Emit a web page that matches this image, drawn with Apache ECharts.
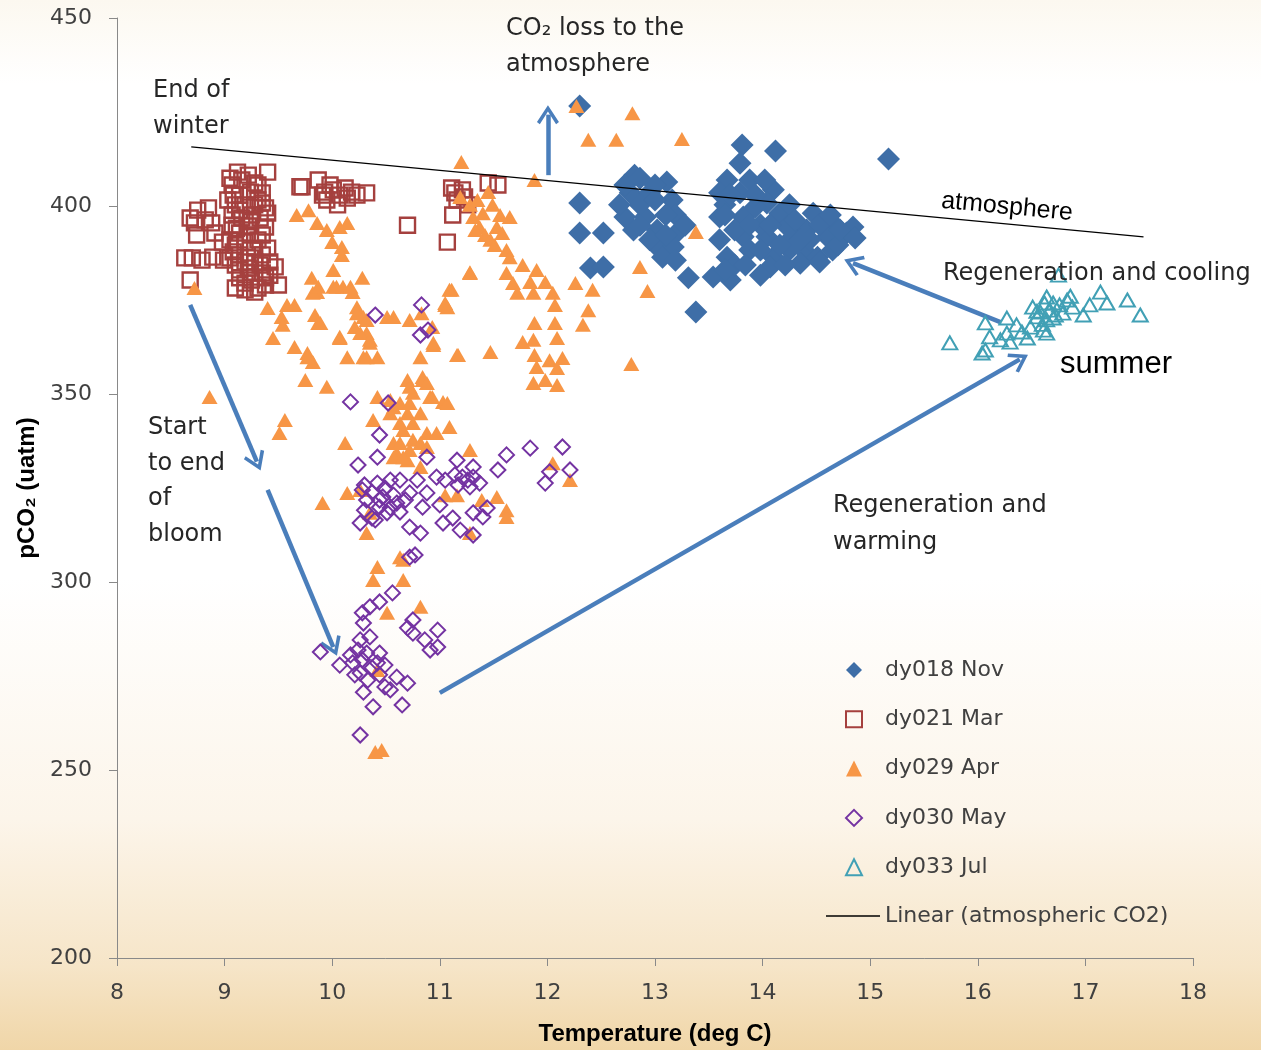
<!DOCTYPE html>
<html><head><meta charset="utf-8">
<script src="https://cdn.jsdelivr.net/npm/echarts@6.0.0/dist/echarts.min.js"></script>
<style>html,body{margin:0;padding:0;background:#fff}#c{width:1261px;height:1050px}</style>
</head><body><div id="c"></div>
<script>
// ---- data (temperature degC, pCO2 uatm) ----
const nov = [
[12.30,426.6],[12.30,400.8],[12.30,392.8],[12.52,392.8],[12.40,383.5],[12.52,383.8],
[13.81,416.2],[14.12,414.6],[15.17,412.5],[13.38,371.8],[13.31,380.9],
[12.81,408.2],[13.11,406.4],[12.77,403.5],[12.95,403.5],[13.16,401.6],[12.72,397.1],[12.91,397.1],[13.19,397.6],[12.80,393.6],[13.02,393.6],[13.20,392.8],[13.05,388.3],[13.17,389.1],[13.07,386.4],[12.86,400.3],[13.00,405.6],
[12.72,405.6],[12.86,407.4],[13.00,401.6],[13.10,397.6],[12.67,400.3],[12.95,391.0],[12.86,394.9],[13.10,392.3],[13.28,394.9],[13.19,385.6],
[13.79,411.4],[13.67,406.9],[13.88,406.9],[13.60,403.5],[13.79,403.5],[14.10,404.3],[14.04,400.8],[13.60,397.1],[13.82,397.1],[14.16,398.1],[14.23,394.4],[14.47,398.1],[14.65,395.5],[14.84,394.4],[14.41,393.6],[14.60,391.8],[13.60,391.0],[13.82,391.8],[14.04,391.8],[14.28,391.8],[13.67,386.4],[13.88,388.3],[14.10,386.4],[14.41,387.5],[14.65,388.3],[13.54,381.1],[13.70,380.3],[14.07,383.8],[14.35,384.8],[14.51,386.4],[14.78,392.8],
[13.98,395.0],[14.25,400.3],[13.65,400.3],[13.93,399.7],[13.74,384.3],[14.25,388.3],[14.44,391.0],[14.70,389.6],[14.53,385.1],
[13.70,403.0],[13.93,403.0],[13.74,393.6],[13.88,395.0],[13.98,388.3],[14.16,389.6],[14.30,396.3],[14.53,395.0],[14.72,393.6],[14.35,391.0],[14.21,384.3],[13.84,384.3],[13.65,383.0],[13.98,381.6],[14.63,397.6],[14.86,391.5],[14.07,395.0],[13.65,397.6],[14.02,406.9]
];
const mar = [
[9.12,409.0],[9.40,409.0],[9.28,406.1],[9.35,403.5],[9.70,405.1],[9.07,405.6],[9.14,402.9],[9.24,403.7],[9.10,400.3],[9.19,400.3],[9.28,400.3],[9.38,399.5],[9.07,397.6],[9.16,396.8],[9.25,397.6],[9.40,398.1],[9.11,394.1],[9.22,394.7],[9.38,394.4],[9.05,391.0],[9.19,390.4],[9.31,391.0],
[9.03,401.6],[9.33,396.8],[9.14,392.8],[9.28,388.8],[9.24,382.4],[9.35,382.2],[9.19,385.1],[9.07,394.9],[9.31,401.6],[9.16,406.9],
[9.05,407.4],[9.22,408.2],[9.31,405.6],[9.08,402.9],[9.35,400.8],[9.14,398.9],[9.24,395.8],[9.35,392.3],[9.10,389.6],[9.24,392.3],[9.05,386.2],[9.28,385.1],[9.38,379.0],[9.14,383.0],[9.42,381.6],[9.28,377.1],[9.19,379.5],[9.10,378.2],
[8.75,398.9],[8.85,399.5],[8.72,395.5],[8.88,395.5],[8.74,392.3],[8.91,392.8],[8.82,396.3],[8.70,386.2],[8.79,385.6],[8.89,386.4],[8.99,385.6],[8.68,380.3],[8.98,390.4],[8.68,396.8],[8.63,386.2],
[9.14,387.0],[9.24,386.2],[9.35,387.0],[9.10,384.3],[9.22,383.5],[9.33,384.3],[9.42,385.1],[9.14,380.9],[9.25,380.3],[9.38,380.9],[9.47,383.8],[9.50,379.0],[9.19,377.7],[9.31,378.2],[9.08,387.8],[9.40,388.8],
[9.72,405.1],[9.87,406.9],[9.93,403.7],[10.01,404.3],[10.07,402.9],[10.12,404.8],[10.18,403.7],[10.23,402.9],[10.32,403.5],[9.95,401.6],[10.05,400.3],[9.98,405.6],[10.14,402.1],[9.91,402.9],
[10.70,394.9],[11.07,390.4],[11.12,397.6],[11.14,403.5],[11.21,404.3],[11.16,401.6],[11.23,402.4],[11.45,406.1],[11.54,405.6],[11.11,404.8],[11.26,400.3]
];
const apr = [
[12.27,426.6],[12.79,424.7],[12.38,417.6],[12.64,417.6],[13.25,417.8],[11.20,411.7],[11.88,406.9],[13.38,393.1],[12.86,383.8],[12.93,377.4],[12.26,379.5],[12.42,377.7],[12.38,372.3],[12.33,368.4],[12.78,358.0],
[11.45,403.7],[11.31,397.1],[11.40,398.1],[11.65,397.1],[11.37,394.4],[11.53,394.4],[11.47,391.0],[11.58,392.8],[11.62,388.3],[11.28,382.4],[11.65,386.4],[11.77,384.3],[11.62,382.2],[11.90,383.0],[11.68,379.5],[11.84,379.8],[11.98,379.8],[11.72,376.9],[11.87,376.9],[12.05,376.9],[12.07,373.7],[11.11,377.7],[11.05,373.7],[11.88,368.9],[12.07,368.9],[11.77,363.8],[11.87,364.4],[12.09,364.9],[11.17,360.4],[11.47,361.2],[11.88,360.4],[12.02,359.0],[12.14,359.6],[11.90,357.2],[12.09,356.9],[11.87,352.9],[12.09,352.4],[11.98,353.7],
[11.28,400.3],[11.35,401.6],[11.49,400.3],[11.42,392.3],[11.51,389.6],[11.56,397.6],[11.33,393.6],[11.19,402.4],
[9.67,397.6],[9.78,398.9],[9.86,395.5],[9.95,393.6],[10.07,394.4],[10.14,395.5],[10.00,390.4],[10.09,389.1],[10.09,387.0],[10.01,383.0],[9.81,380.9],[10.28,380.9],[9.86,377.1],[10.01,378.5],[10.10,378.5],[10.19,377.1],
[9.40,372.9],[9.58,373.7],[9.65,373.7],[9.53,370.5],[9.54,368.4],[9.45,364.9],[9.65,362.5],[9.77,360.9],[9.82,358.5],[9.75,353.7],[9.95,351.9],[9.84,371.0],[9.87,368.9],[10.07,364.9],[10.14,359.8],
[10.23,373.1],[10.29,370.5],[10.21,367.8],[10.32,366.2],[10.35,363.6],[10.29,359.8],[10.42,359.8],[10.51,370.5],[10.57,370.5],[10.72,369.7],[10.83,371.5],[10.93,367.8],[10.94,363.0],[10.82,359.8],[11.05,374.2],[11.09,377.7],[11.28,382.2],[11.16,360.4],
[10.70,353.7],[10.84,353.7],[10.75,350.3],[10.42,349.2],[10.54,348.4],[10.63,347.6],[10.91,349.2],[11.03,347.9],[10.38,343.1],[10.54,344.9],[10.70,344.9],[10.82,344.9],[11.09,341.2],[10.66,340.4],[10.57,337.0],[10.75,337.8],[10.88,339.6],[10.97,339.6],[10.60,334.3],[10.70,332.4],[10.82,337.0],[11.28,335.1],[10.12,337.0],[9.56,343.1],[9.51,339.6],
[9.82,376.9],[9.87,378.5],[10.04,378.5],[10.17,378.5],[10.23,371.5],[10.32,369.7],[10.26,366.2],[10.35,364.4],[10.07,365.2],[10.32,359.8],[10.94,363.6],[11.07,373.1],[9.89,368.9],[9.77,359.8],
[10.84,354.5],[10.93,349.2],[10.57,346.5],[10.72,347.6],[10.63,342.3],[10.75,342.3],[11.07,347.6],[10.63,337.0],[10.72,335.1],[10.57,333.2],[10.88,335.9],[10.82,330.6],
[10.72,351.9],[10.88,352.9],[10.66,333.2],[12.05,331.6],[12.21,327.1],[11.53,322.6],[11.62,319.1],[11.62,317.3],
[10.32,313.0],[10.63,306.6],[10.66,305.9],[10.42,304.0],[10.38,300.5],[10.66,300.5],[10.82,293.4],[10.51,291.8],[9.91,321.0],[10.14,323.7],[10.26,324.5],[10.35,318.4],[11.05,323.1],[11.16,323.1],[11.39,321.8],[11.28,313.0],
[10.42,276.6],[10.40,254.8],[10.46,255.3],[8.72,378.2],[8.86,349.2]
];
const may = [
[10.83,373.7],[10.40,371.0],[10.82,365.7],[10.89,367.0],[10.17,347.9],[10.52,347.6],[10.44,339.1],[10.42,333.2],[10.24,331.1],[10.88,333.2],[11.16,332.4],[11.31,330.6],[11.54,329.8],[11.62,333.8],[11.84,335.6],[12.14,335.9],[12.02,329.3],[12.21,329.8],[11.98,326.3],
[10.28,324.5],[10.42,326.3],[10.54,327.1],[10.63,327.1],[10.32,321.8],[10.47,322.6],[10.60,321.0],[10.26,315.7],[10.37,317.0],[10.51,318.4],[10.63,318.6],[10.44,319.9],
[10.30,325.8],[10.37,323.9],[10.49,325.0],[10.57,323.1],[10.44,321.8],[10.30,319.1],[10.54,319.7],[10.40,316.5],[10.68,321.8],
[10.72,323.7],[10.79,327.1],[10.88,323.7],[10.84,319.9],[10.97,327.9],[11.00,320.5],[11.03,315.7],[11.12,317.0],[11.21,327.9],[11.31,327.9],[11.17,325.8],[11.28,325.3],[11.19,313.8],[11.31,312.5],[11.31,318.4],[11.40,317.3],[11.44,319.7],[10.72,314.6],[10.82,313.0],
[11.05,327.1],[11.14,328.5],[11.26,327.1],[11.37,326.3],
[10.72,306.6],[10.77,307.2],
[10.56,297.1],[10.44,294.7],[10.35,293.4],[10.28,291.8],[10.29,289.1],[10.35,285.4],[10.26,284.6],[9.89,281.4],[10.07,277.9],[10.19,278.5],[10.24,281.9],[10.32,281.1],[10.44,281.1],[10.42,278.5],[10.26,275.8],[10.44,275.3],[10.60,274.7],[10.70,273.1],[10.29,270.7],[10.49,272.1],[10.54,271.3],[10.38,266.8],[10.65,267.3],[10.26,259.3],
[10.17,280.6],[10.28,279.3],[10.37,277.2],[10.21,275.3],[10.33,273.9],[10.49,277.9],
[10.75,289.9],[10.70,287.8],[10.75,286.4],[10.98,287.2],[10.86,284.6],[10.98,282.7],[10.91,281.9]
];
const jul = [
[16.75,381.6],[17.14,377.1],[17.39,375.0],[17.51,371.0],[16.64,375.8],[16.70,374.2],[16.83,375.0],[16.88,373.1],[17.04,373.7],[17.20,374.2],[16.98,371.0],[16.79,371.5],[16.51,373.1],[16.55,370.5],[16.64,369.7],[16.70,370.2],[16.49,367.8],[16.61,367.0],[16.64,366.2],[16.46,364.9],[16.36,368.4],[16.27,370.2],[16.07,368.9],[16.11,365.2],[16.21,364.4],[16.30,363.8],[16.07,361.7],[16.04,360.9],[15.74,363.6],[16.27,366.2],[16.41,366.5],
[16.58,371.8],[16.67,372.3],[16.76,373.7],[16.62,374.2],[16.55,372.0],[16.72,371.0],[16.60,368.5],[16.86,376.0]
];
const atmosLine = [[8.69,415.7],[17.54,391.8]];
// annotation arrows: [start, end]
const arrows = [
  [[12.005,408.2],[12.005,424.3]],
  [[8.68,373.7],[9.30,332.0]],
  [[9.40,324.5],[10.01,282.7]],
  [[11.00,270.5],[16.39,359.2]],
  [[16.21,369.1],[14.84,384.8]]
];
const xTicks = {min: 8, max: 18, interval: 1};
const yTicks = {min: 200, max: 450, interval: 50};
const seriesNames = ['dy018 Nov','dy021 Mar','dy029 Apr','dy030 May','dy033 Jul'];
const trendName = 'Linear (atmospheric CO2)';

const FONT = 'DejaVu Sans';
const chevron = 'path://M10,0 L20,15 L17.4,17 L10,5.8 L2.6,17 L0,15 Z';

const chart = echarts.init(document.getElementById('c'), null, {renderer: 'canvas'});
const noEmph = {disabled: true};
function scatter(name, data, symbol, size, itemStyle, z) {
  return {type: 'scatter', name, data, symbol, symbolSize: size, itemStyle: Object.assign({opacity: 1}, itemStyle), z, emphasis: noEmph, silent: true, animation: false, large: false};
}
const legendText = {fontFamily: FONT, fontSize: 22, color: '#404040', lineHeight: 22};
const option = {
  animation: false,
  backgroundColor: {
    type: 'linear', x: 0, y: 0, x2: 0, y2: 1,
    colorStops: [
      {offset: 0, color: '#fcf8f0'}, {offset: 0.08, color: '#ffffff'},
      {offset: 0.55, color: '#ffffff'}, {offset: 0.78, color: '#fcf5ea'},
      {offset: 0.92, color: '#f6e5c8'}, {offset: 1, color: '#f0d6a8'}
    ]
  },
  grid: {left: 117, right: 68, top: 18, bottom: 92, containLabel: false, outerBoundsMode: 'none'},
  xAxis: {
    type: 'value', min: xTicks.min, max: xTicks.max, interval: xTicks.interval,
    name: 'Temperature (deg C)', nameLocation: 'middle', nameGap: 64,
    nameTextStyle: {fontFamily: 'Liberation Sans', fontWeight: 'bold', fontSize: 24, color: '#000'},
    axisLine: {show: true, onZero: false, lineStyle: {color: '#898989', width: 1}},
    axisTick: {show: true, inside: false, length: 8, lineStyle: {color: '#898989'}},
    axisLabel: {show: true, margin: 24, fontFamily: FONT, fontSize: 22, color: '#404040', hideOverlap: false, showMinLabel: true, showMaxLabel: true},
    splitLine: {show: false}
  },
  yAxis: {
    type: 'value', min: yTicks.min, max: yTicks.max, interval: yTicks.interval,
    name: 'pCO₂ (uatm)', nameLocation: 'middle', nameGap: 74, nameRotate: 90,
    nameTextStyle: {fontFamily: 'Liberation Sans', fontWeight: 'bold', fontSize: 24, color: '#000'},
    axisLine: {show: true, onZero: false, lineStyle: {color: '#898989', width: 1}},
    axisTick: {show: true, inside: false, length: 8, lineStyle: {color: '#898989'}},
    axisLabel: {show: true, margin: 25, fontFamily: FONT, fontSize: 22, color: '#404040', hideOverlap: false, showMinLabel: true, showMaxLabel: true},
    splitLine: {show: false}
  },
  legend: [
    {
      data: seriesNames, orient: 'vertical', left: 845, top: 659, padding: 0,
      itemWidth: 16, itemHeight: 16, itemGap: 27.3,
      formatter: name => '{g| }' + name,
      textStyle: Object.assign({}, legendText, {rich: {g: {width: 18, fontSize: 22, lineHeight: 22}}}),
      selectedMode: false
    },
    {
      data: [{name: trendName, icon: 'rect'}], orient: 'vertical', left: 826, top: 905, padding: 0,
      itemWidth: 54, itemHeight: 1.3,
      textStyle: legendText,
      selectedMode: false
    }
  ],
  series: [
    scatter(seriesNames[0], nov, 'diamond', 23, {color: '#3e6ea7'}, 2),
    scatter(seriesNames[1], mar, 'rect', 15, {color: 'rgba(255,255,255,0)', borderColor: '#a5403e', borderWidth: 2.4}, 3),
    scatter(seriesNames[2], apr, 'triangle', [16, 14], {color: '#f79646'}, 4),
    scatter(seriesNames[3], may, 'diamond', 15, {color: 'rgba(255,255,255,0)', borderColor: '#7433a2', borderWidth: 2}, 5),
    scatter(seriesNames[4], jul, 'triangle', [15, 13], {color: 'rgba(255,255,255,0)', borderColor: '#41a0b5', borderWidth: 2}, 6),
    {
      type: 'line', name: trendName, data: atmosLine, showSymbol: false, symbol: 'none',
      lineStyle: {color: '#000', width: 1.2}, itemStyle: {color: '#000'}, z: 7, silent: true, emphasis: noEmph
    },
    {
      type: 'scatter', name: 'arrows', data: [], z: 8, silent: true,
      markLine: {
        silent: true, animation: false, symbol: ['none', chevron], symbolSize: [22, 19],
        lineStyle: {color: '#4a7ebb', width: 4.5, type: 'solid', opacity: 1},
        label: {show: false}, emphasis: {disabled: true},
        data: arrows.map(a => [{coord: a[0]}, {coord: a[1]}])
      }
    }
  ],
  graphic: [
    {type: 'text', left: 506, top: 11, z: 100, silent: true,
      style: {text: 'CO₂ loss to the\natmosphere', fontFamily: FONT, fontSize: 24, fill: '#262626', lineHeight: 36}},
    {type: 'text', left: 153, top: 73, z: 100, silent: true,
      style: {text: 'End of\nwinter', fontFamily: FONT, fontSize: 24, fill: '#262626', lineHeight: 36}},
    {type: 'text', left: 148, top: 410, z: 100, silent: true,
      style: {text: 'Start\nto end\nof\nbloom', fontFamily: FONT, fontSize: 24, fill: '#262626', lineHeight: 35.7}},
    {type: 'text', left: 833, top: 487, z: 100, silent: true,
      style: {text: 'Regeneration and\nwarming', fontFamily: FONT, fontSize: 24, fill: '#262626', lineHeight: 37}},
    {type: 'text', left: 943, top: 256, z: 100, silent: true,
      style: {text: 'Regeneration and cooling', fontFamily: FONT, fontSize: 24, fill: '#262626', lineHeight: 36}},
    {type: 'text', left: 1060, top: 346, z: 100, silent: true,
      style: {text: 'summer', fontFamily: 'Liberation Sans', fontSize: 31, fill: '#000', lineHeight: 36}},
    {type: 'text', x: 1007, y: 207, rotation: -0.094, z: 100, silent: true,
      style: {text: 'atmosphere', fontFamily: 'Liberation Sans', fontSize: 25, fill: '#000', align: 'center', verticalAlign: 'middle'}}
  ]
};
chart.setOption(option);
</script>
</body></html>
